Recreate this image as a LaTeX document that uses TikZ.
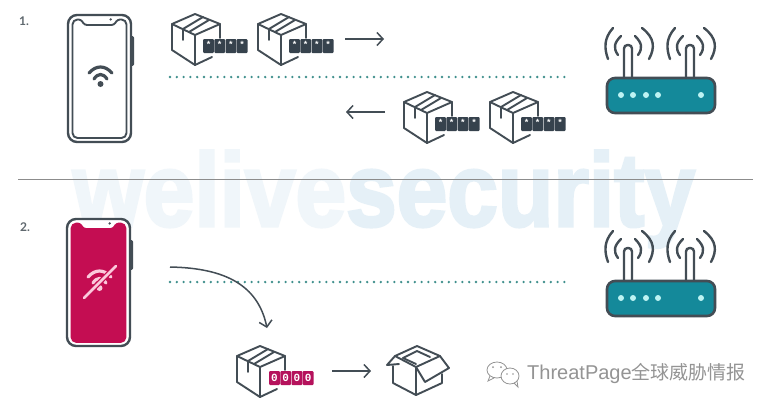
\documentclass[tikz,border=0pt]{standalone}
\usepackage{fontspec}
\setmainfont{Lato}
\newfontfamily\markfont{Liberation Sans}
\newfontfamily\wmfont[BoldFeatures={FakeBold=3}]{Liberation Sans}
\newfontfamily\monofont{Liberation Mono}
\newfontfamily\cjkfont{Noto Sans CJK SC}
\usetikzlibrary{arrows.meta,positioning}
\definecolor{inkdark}{HTML}{434D55}
\definecolor{keydark}{HTML}{36424D}
\definecolor{wifired}{HTML}{C40D52}
\definecolor{keyred}{HTML}{B5125C}
\definecolor{routerteal}{HTML}{14899A}
\definecolor{ledpale}{HTML}{BDF3F3}
\definecolor{dotteal}{HTML}{3E8F8C}
\definecolor{markpale}{HTML}{F0F6FA}
\definecolor{markblue}{HTML}{E5F0F7}
\definecolor{slashpink}{HTML}{FBC9DC}
\definecolor{paleink}{HTML}{949494}
\tikzset{
  x=1pt,y=-1pt,
  ink/.style={draw=inkdark,line width=1.9pt,line join=round,line cap=round},
  flow/.style={draw=inkdark,line width=1.5pt,-{Straight Barb[length=6pt,width=13pt,line width=1.5pt]}},
  keycell/.style={fill=#1,rounded corners=1pt,minimum width=10.8pt,minimum height=14pt,inner sep=0pt,text=white},
  linkdots/.style={draw=dotteal,line width=2.6pt,line cap=round,dash pattern=on 0pt off 6.8pt},
  pics/phone/.style 2 args={code={
    \draw[ink,line width=2.4pt,fill=inkdark,rounded corners=1pt] (63,22) rectangle (65,50);
    \draw[ink,line width=2.4pt,fill=white,rounded corners=9pt] (0,0) rectangle (63,127);
    \draw[draw=#1,line width=1.9pt,fill=#2,line join=round,rounded corners=5pt] (4.5,60) -- (4.5,4.5) [rounded corners=2.5pt] -- (13,4.5) -- (16.5,10) -- (46,10) -- (49.5,4.5) [rounded corners=5pt] -- (58.5,4.5) -- (58.5,123) -- (4.5,123) -- cycle;
    \fill[inkdark] (42.7,4.4) circle (1.3);
  }},
  pics/wifi/.style={code={
    \draw[draw=#1,line width=3.2pt,line cap=round] (-11,-5) .. controls (-4,-13) and (5,-13) .. (12,-5);
    \draw[draw=#1,line width=3.2pt,line cap=round] (-6,1) .. controls (-2,-5) and (3,-5) .. (7,1);
    \fill[#1] (0.5,6) circle (3);
  }},
  pics/router/.style={code={
    \foreach \ax in {0,62}{
      \draw[ink,line width=2.4pt,fill=white,rounded corners=3.5pt] (17+\ax,35) -- (17+\ax,-33) -- (25+\ax,-33) -- (25+\ax,35);
      \draw[ink,line width=2.4pt] (14+\ax,-42) .. controls (7+\ax,-35) and (6+\ax,-30) .. (11+\ax,-23);
      \draw[ink,line width=2.4pt] (28+\ax,-42) .. controls (35+\ax,-35) and (36+\ax,-30) .. (31+\ax,-23);
      \draw[ink,line width=2.4pt] (6+\ax,-50) .. controls (-3+\ax,-40) and (-3+\ax,-30) .. (1+\ax,-19);
      \draw[ink,line width=2.4pt] (35+\ax,-50) .. controls (48+\ax,-40) and (48+\ax,-30) .. (42+\ax,-19);
    }
    \draw[draw=inkdark,line width=2.6pt,fill=routerteal,rounded corners=8pt] (0,0) rectangle (108,35);
    \foreach \lx in {14,26,39,51,94}
      \fill[ledpale] (\lx,17) circle (3);
  }},
  pics/parcel/.style={code={
    \draw[ink] (23,0) -- (48,10) -- (23,21) -- (0,10) -- cycle;
    \draw[ink] (0,10) -- (0,36) -- (23,51) -- (23,21);
    \draw[ink] (48,10) -- (48,24);
    \draw[ink] (23,51) -- (40,43);
    \draw[ink] (11,15) -- (31,3);
    \draw[ink] (17,18) -- (37,6);
    \draw[ink] (11,15) -- (11,26);
  }},
  pics/openparcel/.style={code={
    \draw[ink] (8,10) -- (30,0) -- (53,10) -- (29,21) -- cycle;
    \draw[ink] (16,12) -- (30,5) -- (43,11);
    \draw[ink] (16,12) -- (29,18);
    \draw[ink] (6,20) -- (6,37) -- (29,49) -- (29,21);
    \draw[ink] (8,10) -- (0,19) -- (12,18);
    \draw[ink] (29,21) -- (38,36) -- (62,22) -- (53,10);
    \draw[ink] (55,28) -- (55,37) -- (29,49);
  }},
  pics/starcode/.style={code={
    \foreach \k in {0,1,2,3}
      \node[keycell=keydark,font=\markfont\bfseries\fontsize{9}{9}\selectfont] (-k\k) at (\k*11.2,0) {\raisebox{-1.5pt}[0pt][0pt]{*}};
  }},
  pics/zerocode/.style={code={
    \foreach \k in {0,1,2,3}
      \node[keycell=keyred,font=\monofont\bfseries\fontsize{11}{11}\selectfont] (-k\k) at (\k*11.2,0) {0};
  }},
}
\begin{document}
\begin{tikzpicture}
\useasboundingbox[fill=white] (0,0) rectangle (768,408);
% watermark
\node[anchor=base,inner sep=0pt,text=markblue,font=\wmfont\bfseries\fontsize{104}{104}\selectfont,xscale=0.875] (mark) at (384,226) {{\color{markpale}welive}security};
\draw[draw=black!45,line width=0.9pt] (18,179) -- (753,179);
\node[anchor=base west,inner sep=0pt,text=inkdark!85,font=\bfseries\fontsize{12}{12}\selectfont] (stepone) at (19,25) {1.};
\node[anchor=base west,inner sep=0pt,text=inkdark!85,font=\bfseries\fontsize{12}{12}\selectfont] (steptwo) at (20,231) {2.};
% first exchange
\pic at (68,15) {phone={inkdark}{white}};
\pic at (100,78) {wifi=inkdark};
\pic at (607,78) {router};
\pic (senda) at (172,14) {parcel};
\pic (sendb) at (258,14) {parcel};
\pic (recva) at (404,92) {parcel};
\pic (recvb) at (490,92) {parcel};
\pic (senda) at (208.5,46) {starcode};
\pic (sendb) at (294.5,46) {starcode};
\pic (recva) at (440.5,124) {starcode};
\pic (recvb) at (526.5,124) {starcode};
\coordinate (linkaw) at (170,77);
\coordinate (linkae) at (565,77);
\draw[linkdots] (linkaw) -- (linkae);
\coordinate (sendfrom) at (345,39);
\coordinate (sendto) at (384,39);
\coordinate (recvfrom) at (385,112);
\coordinate (recvto) at (346,112);
\draw[flow] (sendfrom) -- (sendto);
\draw[flow] (recvfrom) -- (recvto);
% second exchange
\pic at (67,219) {phone={wifired}{wifired}};
\pic at (99,282) {wifi=slashpink};
\coordinate (slasha) at (84,298);
\coordinate (slashb) at (116,266);
\draw[draw=wifired,line width=5pt] (slasha) -- (slashb);
\draw[draw=slashpink,line width=2.8pt,line cap=round] (slasha) -- (slashb);
\pic at (607,281) {router};
\coordinate (linkbw) at (170,282);
\coordinate (linkbe) at (565,282);
\draw[linkdots] (linkbw) -- (linkbe);
\coordinate (dropfrom) at (170,267);
\coordinate (dropto) at (267,328);
\draw[flow] (dropfrom) .. controls (225,268) and (258,285) .. (dropto);
\pic (shut) at (237,346) {parcel};
\pic (shut) at (274.5,378) {zerocode};
\pic (opened) at (387,346) {openparcel};
\coordinate (openfrom) at (332,371);
\coordinate (opento) at (371,371);
\draw[flow] (openfrom) -- (opento);
% channel mark
\draw[draw=paleink,line width=0.8pt] (497,370) ellipse (10 and 8);
\draw[draw=paleink,line width=0.8pt,fill=white] (510,376) ellipse (9 and 8);
\fill[paleink] (493,367) circle (1) (501,367) circle (1) (507,374) circle (0.9) (513,374) circle (0.9);
\draw[draw=paleink,line width=0.8pt] (490,376) -- (488,381) -- (494,378);
\draw[draw=paleink,line width=0.8pt] (514,383) -- (518,387) -- (517,381);
\node[anchor=base west,inner sep=0pt,text=paleink,font=\markfont\fontsize{20}{20}\selectfont] (channel) at (527,379) {ThreatPage{\cjkfont\fontsize{19}{19}\selectfont 全球威胁情报}};
\end{tikzpicture}
\end{document}
